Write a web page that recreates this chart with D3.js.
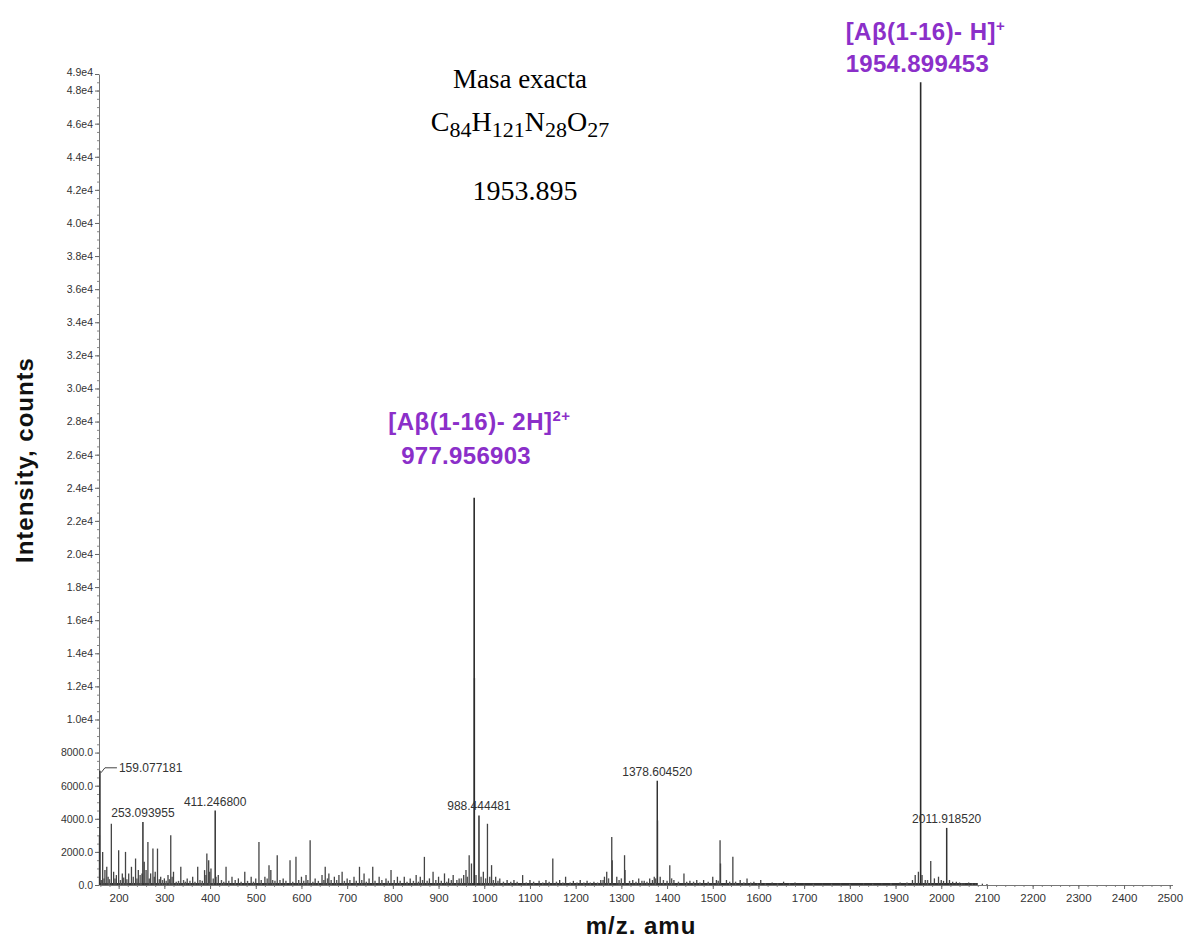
<!DOCTYPE html>
<html>
<head>
<meta charset="utf-8">
<script src="https://d3js.org/d3.v7.min.js"></script>
<style>
    body { margin: 0; background: #ffffff; }
    svg { display: block; }
</style>
</head>
<body>
<svg width="1184" height="940"></svg>
<script>
//Labelled peaks: m/z, intensity (counts) and the printed label
var labelMz = [159.077181, 253.093955, 411.246800, 988.444481, 1378.604520, 2011.918520];
var labelInt = [6900, 3800, 4500, 4200, 6300, 3450];
var labelText = ["159.077181", "253.093955", "411.246800", "988.444481", "1378.604520", "2011.918520"];

//The two assigned ions (purple annotations)
var ionMz = [977.956903, 1954.899453];
var ionInt = [23400, 48500];
var ionName = ["[A\u03b2(1-16)- 2H]", "[A\u03b2(1-16)- H]"];
var ionCharge = ["2+", "+"];
var ionText = ["977.956903", "1954.899453"];

//Other peaks [m/z, counts]
var minorPeaks = [
    [158, 3000], [165, 2000], [170, 900], [174, 1100], [184, 3700], [189, 800], [195, 600],
    [200, 2100], [208, 700], [215, 2000], [222, 700], [228, 1100], [237, 1600], [243, 900],
    [256, 1400], [260, 900], [264, 2600], [270, 700], [275, 2200], [280, 800], [285, 2200],
    [292, 500], [300, 400], [308, 600], [314, 3000], [320, 800], [336, 1100], [350, 400],
    [362, 500], [373, 1100], [388, 900], [393, 1900], [397, 1500], [402, 1000], [418, 600],
    [435, 1100], [448, 500], [462, 400], [476, 800], [490, 500], [500, 400], [507, 2600],
    [520, 500], [529, 1200], [533, 900], [547, 1800], [560, 400], [575, 1500], [588, 1700],
    [600, 500], [610, 600], [619, 2700], [630, 400], [645, 600], [652, 1100], [660, 700],
    [672, 500], [682, 600], [689, 800], [700, 400], [715, 500], [727, 1100], [737, 700],
    [748, 400], [756, 1100], [770, 500], [785, 400], [796, 900], [810, 500], [825, 500],
    [838, 400], [851, 600], [860, 500], [869, 1700], [880, 400], [888, 800], [900, 500],
    [913, 700], [922, 400], [932, 600], [945, 400], [955, 600], [960, 900], [967, 1800],
    [972, 1300], [978.6, 12500], [998, 800], [1007, 3700], [1016, 1200], [1025, 500], [1034, 400],
    [1050, 300], [1065, 300], [1084, 600], [1100, 300], [1120, 250], [1135, 300], [1150, 1600],
    [1165, 300], [1178, 500], [1195, 250], [1210, 300], [1225, 250], [1240, 200], [1255, 300],
    [1263, 500], [1268, 800], [1279, 2900], [1280, 1500], [1290, 500], [1307, 1800], [1308, 900],
    [1325, 300], [1338, 400], [1350, 250], [1362, 400], [1368, 300], [1372, 500], [1379.2, 3900],
    [1385, 500], [1406, 1200], [1415, 300], [1437, 700], [1450, 250], [1465, 300], [1480, 300],
    [1500, 500], [1508, 300], [1516, 2700], [1517, 1300], [1530, 300], [1544, 1700], [1560, 300],
    [1575, 400], [1590, 200], [1605, 300], [1630, 150], [1655, 200], [1680, 150], [1700, 100],
    [1740, 100], [1780, 100], [1830, 120], [1870, 100], [1910, 150], [1937, 300], [1943, 600],
    [1950, 800], [1958, 600], [1965, 300], [1977, 1450], [1985, 400], [1994, 500], [2000, 300],
    [2005, 250], [2018, 300], [2025, 200], [2033, 200], [2040, 150], [2050, 120], [2060, 150],
    [2075, 100], [2090, 80]
];

//Grass along the baseline [m/z, counts]
var smallPeaks = [
    [162, 300], [168, 400], [177, 500], [180, 350], [192, 400], [204, 300], [211, 450], [218, 350],
    [232, 500], [240, 400], [247, 600], [251, 700], [267, 400], [278, 500], [289, 350], [296, 300],
    [304, 250], [311, 350], [317, 500], [326, 200], [331, 250], [342, 300], [346, 200], [356, 250],
    [367, 200], [378, 300], [383, 250], [391, 600], [399, 800], [407, 400], [413, 500], [425, 300],
    [430, 200], [441, 250], [455, 300], [468, 200], [482, 250], [495, 200], [512, 300], [525, 400],
    [537, 300], [542, 250], [553, 300], [566, 250], [581, 200], [594, 300], [605, 250], [614, 300],
    [625, 200], [637, 250], [649, 300], [657, 400], [665, 300], [677, 300], [694, 250], [706, 300],
    [720, 250], [732, 300], [742, 200], [761, 250], [776, 300], [790, 250], [803, 300], [816, 250],
    [831, 200], [845, 250], [856, 200], [865, 300], [875, 250], [894, 300], [906, 250], [918, 200],
    [928, 300], [940, 300], [950, 400], [963, 500], [982, 600], [993, 500], [1003, 400], [1012, 500],
    [1020, 300], [1030, 250], [1042, 200], [1058, 200], [1072, 200], [1092, 150], [1108, 200],
    [1128, 150], [1142, 200], [1158, 200], [1172, 150], [1188, 150], [1203, 150], [1218, 150],
    [1232, 150], [1248, 150], [1260, 300], [1272, 400], [1295, 300], [1300, 400], [1318, 250],
    [1332, 200], [1345, 250], [1356, 200], [1375, 400], [1392, 300], [1400, 250], [1410, 400],
    [1425, 200], [1443, 200], [1458, 200], [1472, 150], [1490, 200], [1512, 250], [1537, 200],
    [1550, 200], [1568, 150], [1583, 150], [1598, 100], [1615, 100], [1642, 100], [1668, 100],
    [1720, 80], [1760, 80], [1800, 80], [1850, 80], [1890, 100], [1925, 150], [1970, 300],
    [2045, 100], [2068, 100], [2100, 60]
];

//Axis ticks
var xTicks = [200, 300, 400, 500, 600, 700, 800, 900, 1000, 1100, 1200, 1300, 1400, 1500,
    1600, 1700, 1800, 1900, 2000, 2100, 2200, 2300, 2400, 2500];
var yTicks = [0, 2000, 4000, 6000, 8000, 10000, 12000, 14000, 16000, 18000, 20000, 22000, 24000,
    26000, 28000, 30000, 32000, 34000, 36000, 38000, 40000, 42000, 44000, 46000, 48000, 49000];

var purple = "#8b2fc9";
var tickFont = "'Liberation Sans', Arial, sans-serif";

var svg = d3.select("svg");

//Scales: m/z across, counts up
var x = d3.scaleLinear().domain([157, 2506]).range([99, 99 + (2506 - 157) * 0.457]),
    y = d3.scaleLinear().domain([0, 49000]).range([885, 74]);

//Minor ticks on both axes
svg.append("g")
    .attr("transform", "translate(0," + y(0) + ")")
    .call(d3.axisBottom(x).tickValues(d3.range(160, 2501, 20)).tickSize(2).tickFormat(""))
    .call(function(g) { g.select(".domain").remove(); })
    .selectAll("line").attr("stroke", "#888");

svg.append("g")
    .attr("transform", "translate(" + x(157) + ",0)")
    .call(d3.axisLeft(y).tickValues(d3.range(0, 49001, 500)).tickSize(2).tickFormat(""))
    .call(function(g) { g.select(".domain").remove(); })
    .selectAll("line").attr("stroke", "#888");

//x-axis
var xAxis = svg.append("g")
    .attr("transform", "translate(0," + y(0) + ")")
    .call(d3.axisBottom(x).tickValues(xTicks).tickSize(4).tickSizeOuter(0).tickPadding(5).tickFormat(d3.format("d")));
xAxis.select(".domain").attr("stroke", "#777");
xAxis.selectAll(".tick line").attr("stroke", "#666");
xAxis.selectAll(".tick text")
    .style("font-family", tickFont).style("font-size", "11.5px").style("fill", "#333");

//y-axis with the instrument style number format
var yFormat = function(d) { return d < 10000 ? d.toFixed(1) : (d / 10000).toFixed(1) + "e4"; };
var yAxis = svg.append("g")
    .attr("transform", "translate(" + x(157) + ",0)")
    .call(d3.axisLeft(y).tickValues(yTicks).tickSize(4).tickSizeOuter(0).tickPadding(2).tickFormat(yFormat));
yAxis.select(".domain").attr("stroke", "#777");
yAxis.selectAll(".tick line").attr("stroke", "#666");
yAxis.selectAll(".tick text")
    .style("font-family", tickFont).style("font-size", "10.5px").style("fill", "#333");
//top label sits right on 4.8e4, so nudge it up a bit
yAxis.selectAll(".tick text").filter(function(d) { return d === 49000; }).attr("dy", "0.1em");

//Baseline of the spectrum
svg.append("line")
    .attr("x1", x(157)).attr("x2", x(2080))
    .attr("y1", y(0) - 1).attr("y2", y(0) - 1)
    .attr("stroke", "#333").attr("stroke-width", 2);

//Grass, then peaks
svg.append("g").selectAll("line")
    .data(smallPeaks)
    .enter().append("line")
    .attr("x1", function(d) { return x(d[0]); })
    .attr("x2", function(d) { return x(d[0]); })
    .attr("y1", y(0))
    .attr("y2", function(d) { return y(d[1]); })
    .attr("stroke", "#555").attr("stroke-width", 1.4);

svg.append("g").selectAll("line")
    .data(minorPeaks)
    .enter().append("line")
    .attr("x1", function(d) { return x(d[0]); })
    .attr("x2", function(d) { return x(d[0]); })
    .attr("y1", y(0))
    .attr("y2", function(d) { return y(d[1]); })
    .attr("stroke", "#444").attr("stroke-width", 1.3);

svg.append("g").selectAll("line")
    .data(labelMz)
    .enter().append("line")
    .attr("x1", function(d) { return x(d); })
    .attr("x2", function(d) { return x(d); })
    .attr("y1", y(0))
    .attr("y2", function(d, i) { return y(labelInt[i]); })
    .attr("stroke", "#333").attr("stroke-width", 1.5);

svg.append("g").selectAll("line")
    .data(ionMz)
    .enter().append("line")
    .attr("x1", function(d) { return x(d); })
    .attr("x2", function(d) { return x(d); })
    .attr("y1", y(0))
    .attr("y2", function(d, i) { return y(ionInt[i]); })
    .attr("stroke", "#2a2a2a").attr("stroke-width", 1.6);

//Peak labels (first one has a leader line to the right)
var lab = svg.append("g")
    .style("font-family", tickFont).style("font-size", "12px").style("fill", "#333");

lab.selectAll("text")
    .data(labelMz)
    .enter().append("text")
    .attr("x", function(d, i) { return i === 0 ? x(d) + 19 : x(d); })
    .attr("y", function(d, i) { return i === 0 ? y(labelInt[i]) + 1 : y(labelInt[i]) - 5; })
    .attr("text-anchor", function(d, i) { return i === 0 ? "start" : "middle"; })
    .text(function(d, i) { return labelText[i]; });

svg.append("path")
    .attr("d", "M" + (x(labelMz[0]) + 1) + "," + (y(labelInt[0]) + 2) +
        "L" + (x(labelMz[0]) + 5) + "," + (y(labelInt[0]) - 3) +
        "L" + (x(labelMz[0]) + 17) + "," + (y(labelInt[0]) - 3))
    .attr("fill", "none").attr("stroke", "#444").attr("stroke-width", 1);

//Purple ion annotations
var ionDx = [-86, -75], ionNameY = [430, 40], ionValY = [464, 72], ionValDx = [-73, -75];
ionMz.forEach(function(m, i) {
    var t = svg.append("text")
        .attr("x", x(m) + ionDx[i]).attr("y", ionNameY[i])
        .style("font-family", tickFont).style("font-size", "24px").style("font-weight", "bold")
        .style("letter-spacing", "0.5px")
        .style("fill", purple);
    t.append("tspan").text(ionName[i]);
    t.append("tspan").attr("dy", -9).style("font-size", "15px").text(ionCharge[i]);

    svg.append("text")
        .attr("x", x(m) + ionValDx[i]).attr("y", ionValY[i])
        .style("font-family", tickFont).style("font-size", "24px").style("font-weight", "bold")
        .style("letter-spacing", "0.3px")
        .style("fill", purple)
        .text(ionText[i]);
});

//Exact mass text block
var serif = "'Liberation Serif', 'Times New Roman', serif";
svg.append("text")
    .attr("x", 520).attr("y", 88)
    .attr("text-anchor", "middle")
    .style("font-family", serif).style("font-size", "27px")
    .text("Masa exacta");

var formula = [["C", "84"], ["H", "121"], ["N", "28"], ["O", "27"]];
var f = svg.append("text")
    .attr("x", 520).attr("y", 131)
    .attr("text-anchor", "middle")
    .style("font-family", serif).style("font-size", "28px");
formula.forEach(function(p, i) {
    f.append("tspan").attr("dy", i === 0 ? 0 : -6).text(p[0]);
    f.append("tspan").attr("dy", 6).style("font-size", "22px").text(p[1]);
});

svg.append("text")
    .attr("x", 525).attr("y", 200)
    .attr("text-anchor", "middle")
    .style("font-family", serif).style("font-size", "28px")
    .text("1953.895");

//Axis titles
svg.append("text")
    .attr("transform", "translate(33,460) rotate(-90)")
    .attr("text-anchor", "middle")
    .style("font-family", tickFont).style("font-size", "24px").style("font-weight", "bold")
    .style("letter-spacing", "1px")
    .style("fill", "#111")
    .text("Intensity, counts");

svg.append("text")
    .attr("x", 641).attr("y", 934)
    .attr("text-anchor", "middle")
    .style("font-family", tickFont).style("font-size", "24px").style("font-weight", "bold")
    .style("letter-spacing", "1px")
    .style("fill", "#111")
    .text("m/z. amu");
</script>
</body>
</html>
